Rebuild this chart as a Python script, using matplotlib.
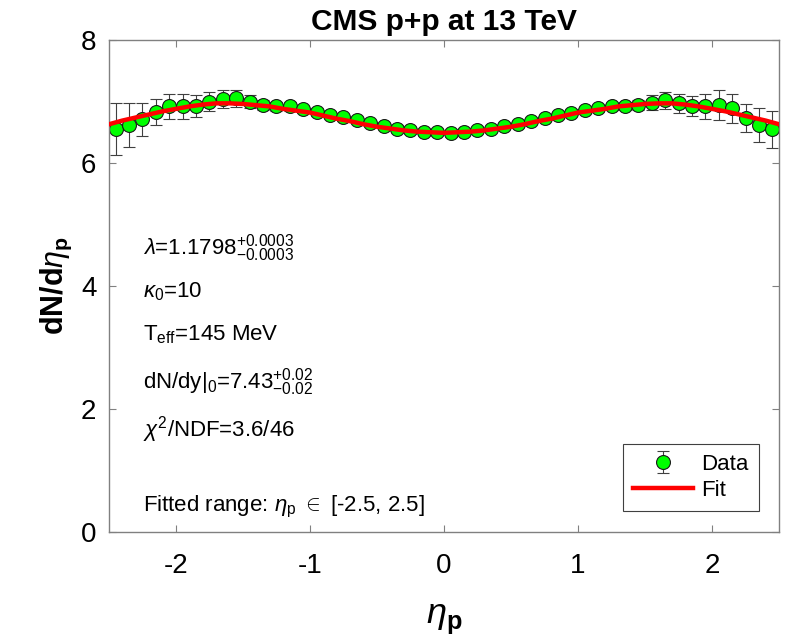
import numpy as np
import matplotlib
matplotlib.use("Agg")
import matplotlib.pyplot as plt

plt.rcParams['font.family'] = ['Liberation Sans', 'DejaVu Sans']
plt.rcParams['mathtext.fontset'] = 'custom'
plt.rcParams['mathtext.rm'] = 'Liberation Sans'
plt.rcParams['mathtext.it'] = 'Liberation Sans:italic'
plt.rcParams['mathtext.bf'] = 'Liberation Sans:bold'
plt.rcParams['axes.unicode_minus'] = False

# measured points (pseudorapidity bins)
eta = np.round(np.arange(-2.45, 2.46, 0.1), 2)
dndeta = [6.55, 6.62, 6.71, 6.83, 6.92, 6.92, 6.93, 7.00, 7.04, 7.05,
          7.00, 6.94, 6.92, 6.92, 6.87, 6.83, 6.78, 6.74, 6.70, 6.65,
          6.60, 6.56, 6.53, 6.51, 6.50, 6.48, 6.50, 6.53, 6.55, 6.60,
          6.63, 6.68, 6.73, 6.78, 6.82, 6.86, 6.89, 6.92, 6.93, 6.94,
          6.98, 7.02, 6.97, 6.93, 6.92, 6.94, 6.89, 6.73, 6.62, 6.55]
err = [0.42, 0.36, 0.27, 0.21, 0.20, 0.20, 0.18, 0.15, 0.15, 0.14,
       0.10, 0.08, 0.07, 0.07, 0.06, 0.06, 0.05, 0.05, 0.05, 0.05,
       0.05, 0.05, 0.05, 0.05, 0.05, 0.05, 0.05, 0.05, 0.05, 0.05,
       0.05, 0.05, 0.05, 0.05, 0.05, 0.05, 0.06, 0.06, 0.07, 0.08,
       0.12, 0.14, 0.16, 0.16, 0.21, 0.24, 0.24, 0.23, 0.28, 0.30]

# fit curve sampled every 0.1 (0 .. 2.5, symmetric)
fit_eta = np.round(np.arange(-2.5, 2.51, 0.1), 2)
fit_half = [6.49, 6.50, 6.51, 6.53, 6.56, 6.59, 6.63, 6.68, 6.72, 6.77,
            6.82, 6.85, 6.88, 6.92, 6.94, 6.96, 6.97, 6.97, 6.95, 6.92,
            6.88, 6.84, 6.79, 6.74, 6.69, 6.63]
fit_vals = fit_half[::-1] + fit_half[1:]

fig = plt.figure(figsize=(7.92, 6.42), dpi=100)
ax = fig.add_axes([0.1376, 0.1713, 0.846, 0.7664])

ax.plot(fit_eta, fit_vals, color='red', lw=3.2, zorder=3, label='Fit')
ax.errorbar(eta, dndeta, yerr=err, fmt='o', color='#404040', ecolor='#404040',
            elinewidth=0.8, capsize=4.5, capthick=0.8,
            mfc='#00ff00', mec='#1a1a1a', mew=0.8, ms=10, zorder=2, label='Data')

ax.set_xlim(-2.5, 2.5)
ax.set_ylim(0, 8)
ax.set_xticks([-2, -1, 0, 1, 2])
ax.set_yticks([0, 2, 4, 6, 8])
ax.tick_params(direction='in', top=True, right=True, labelsize=20,
               length=5, width=0.8, color='#808080')
ax.tick_params(axis='x', pad=15)
ax.tick_params(axis='y', pad=9)
for sp in ax.spines.values():
    sp.set_color('#808080')
    sp.set_linewidth(1.0)

ax.set_title('CMS p+p at 13 TeV', fontsize=21.5, fontweight='bold', pad=7)
ax.set_xlabel(r'$\eta_\mathbf{p}$', fontsize=26, labelpad=16)
ax.set_ylabel(r'$\mathbf{dN/d}\eta_\mathbf{p}$', fontsize=22, labelpad=5)

fs = 16
tx = -2.245
ax.text(tx, 4.51, r'$\lambda$=1.1798$^{+0.0003}_{-0.0003}$', fontsize=fs, va='baseline')
ax.text(tx, 3.82, r'$\kappa_0$=10', fontsize=fs, va='baseline')
ax.text(tx, 3.12, r'T$_{\rm eff}$=145 MeV', fontsize=fs, va='baseline')
ax.text(tx, 2.34, r'dN/dy|$_0$=7.43$^{+0.02}_{-0.02}$', fontsize=fs, va='baseline')
ax.text(tx, 1.55, r'$\chi^2$/NDF=3.6/46', fontsize=fs, va='baseline')
ax.text(tx, 0.34, r'Fitted range: $\eta_{\rm p}$ $\in$ [-2.5, 2.5]', fontsize=fs, va='baseline')

h, l = ax.get_legend_handles_labels()
leg = ax.legend(h[::-1], l[::-1], loc='lower right', fontsize=16,
                bbox_to_anchor=(0.97, 0.043), borderaxespad=0, fancybox=False,
                framealpha=1, edgecolor='#404040', handlelength=2.7,
                borderpad=0.45, labelspacing=0.22, handletextpad=0.4)
leg.get_frame().set_linewidth(0.8)

fig.savefig('out.png', dpi=100)
